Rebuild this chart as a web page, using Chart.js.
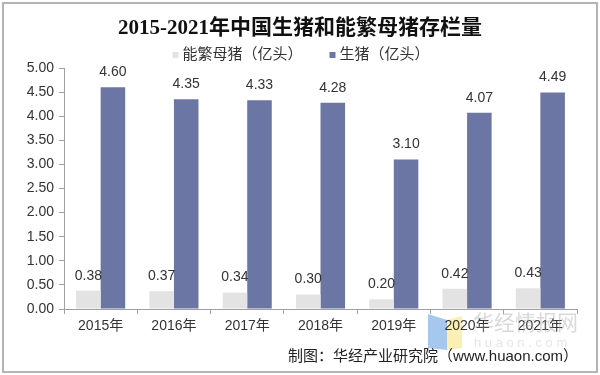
<!DOCTYPE html>
<html>
<head>
<meta charset="utf-8">
<script src="https://cdn.jsdelivr.net/npm/chart.js@4/dist/chart.umd.min.js"></script>
<style>
  html, body { margin: 0; padding: 0; background: #fff; }
  #wrap { width: 600px; height: 375px; position: relative; }
</style>
</head>
<body>
<div id="wrap"><canvas id="pigChart" width="600" height="375"></canvas></div>
<script>
// data
const years = ["2015年", "2016年", "2017年", "2018年", "2019年", "2020年", "2021年"]
const sows = [0.38, 0.37, 0.34, 0.30, 0.20, 0.42, 0.43]   // 能繁母猪
const pigs = [4.60, 4.35, 4.33, 4.28, 3.10, 4.07, 4.49]   // 生猪
const yTicks = [0, 0.5, 1, 1.5, 2, 2.5, 3, 3.5, 4, 4.5, 5]

const titleText = "2015-2021年中国生猪和能繁母猪存栏量"
const sourceText = "制图：华经产业研究院（www.huaon.com）"

const sansFont = '"Liberation Sans", Arial, "Noto Sans CJK SC", sans-serif'
Chart.defaults.font.family = sansFont
Chart.defaults.font.size = 14
Chart.defaults.color = "#333"

// background, frame, title, legend, labels, source, watermark
const decor = {
    id: "decor",
    beforeDraw(chart){
        const ctx = chart.ctx
        ctx.save()
        ctx.fillStyle = "#fff"
        ctx.fillRect(0, 0, chart.width, chart.height)
        ctx.strokeStyle = "#b4b4b4"
        ctx.lineWidth = 2
        ctx.strokeRect(3, 3, 594, 369)
        // watermark logo shapes
        ctx.fillStyle = "rgba(150,190,235,0.85)"
        ctx.beginPath()
        ctx.moveTo(428, 314); ctx.lineTo(447, 320); ctx.lineTo(447, 350); ctx.lineTo(428, 348)
        ctx.closePath(); ctx.fill()
        ctx.fillStyle = "rgba(250,235,160,0.8)"
        ctx.beginPath()
        ctx.moveTo(447, 320); ctx.lineTo(462, 316); ctx.lineTo(462, 348); ctx.lineTo(447, 350)
        ctx.closePath(); ctx.fill()
        ctx.restore()
    },
    afterDatasetsDraw(chart){
        const ctx = chart.ctx
        ctx.save()
        ctx.font = "14px " + sansFont
        ctx.fillStyle = "#333"
        ctx.textAlign = "center"
        ctx.textBaseline = "middle"
        chart.data.datasets.forEach((ds, i) => {
            chart.getDatasetMeta(i).data.forEach((bar, j) => {
                ctx.fillText(ds.data[j].toFixed(2), bar.x, bar.y - 15)
            })
        })
        ctx.restore()
    },
    afterDraw(chart){
        const ctx = chart.ctx
        ctx.save()
        // title
        ctx.font = 'bold 21px "Liberation Serif", "Times New Roman", "Noto Sans CJK SC", serif'
        ctx.fillStyle = "#111"
        ctx.textAlign = "center"
        ctx.textBaseline = "middle"
        ctx.fillText(titleText, 300, 29)

        // legend
        ctx.font = "15px " + sansFont
        ctx.textAlign = "left"
        ctx.fillStyle = "#333"
        const items = chart.data.datasets.map(ds => ({ text: ds.label, color: ds.backgroundColor }))
        const box = 6, gapBox = 4, gapItem = 27
        let total = 0
        items.forEach((it, k) => {
            it.w = box + gapBox + ctx.measureText(it.text).width
            total += it.w + (k ? gapItem : 0)
        })
        let x = 301 - total / 2
        items.forEach(it => {
            ctx.fillStyle = it.color
            ctx.fillRect(x, 52, box, box)
            ctx.fillStyle = "#333"
            ctx.fillText(it.text, x + box + gapBox, 55)
            x += it.w + gapItem
        })

        // source
        ctx.font = "15px " + sansFont
        ctx.textAlign = "right"
        ctx.fillStyle = "#222"
        ctx.fillText(sourceText, 578, 357)

        // watermark text
        ctx.textAlign = "left"
        ctx.fillStyle = "rgba(160,160,160,0.4)"
        ctx.font = '21px "Noto Sans CJK SC", sans-serif'
        ctx.fillText("华经情报网", 473, 322)
        ctx.font = "13px " + sansFont
        ctx.fillStyle = "rgba(180,180,180,0.35)"
        ctx.fillText("h u a o n . c o m", 474, 343)
        ctx.restore()
    }
}

new Chart(document.getElementById("pigChart"), {
    type: "bar",
    data: {
        labels: years,
        datasets: [
            { label: "能繁母猪（亿头）", data: sows, backgroundColor: "#e3e3e3" },
            { label: "生猪（亿头）", data: pigs, backgroundColor: "#6c76a4" }
        ]
    },
    options: {
        responsive: false,
        animation: false,
        layout: { padding: { top: 68, right: 23, bottom: 0, left: 0 } },
        datasets: {
            bar: { categoryPercentage: 0.67, barPercentage: 1.0, borderWidth: 0 }
        },
        plugins: {
            legend: { display: false },
            title: { display: false },
            tooltip: { enabled: false }
        },
        scales: {
            x: {
                grid: { drawOnChartArea: false, tickLength: 5, color: "#a0a0a0" },
                border: { color: "#a0a0a0" },
                ticks: { padding: 4, color: "#333", font: { size: 14 } },
                afterFit: (s) => { s.height = 66 }
            },
            y: {
                min: 0,
                max: 5,
                afterBuildTicks: (s) => { s.ticks = yTicks.map(v => ({ value: v })) },
                grid: { drawOnChartArea: false, tickLength: 5, color: "#a0a0a0" },
                border: { color: "#a0a0a0" },
                ticks: { padding: 5, color: "#333", font: { size: 14 }, callback: (v) => Number(v).toFixed(2) },
                afterFit: (s) => { s.width = 64 }
            }
        }
    },
    plugins: [decor]
})
</script>
</body>
</html>
